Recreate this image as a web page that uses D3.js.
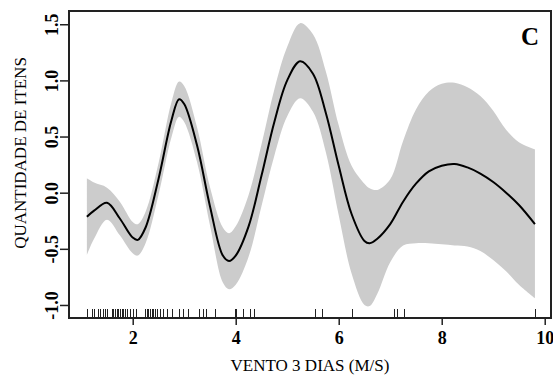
<!DOCTYPE html>
<html>
<head>
<meta charset="utf-8">
<script src="https://cdn.jsdelivr.net/npm/d3@7"></script>
<style>
  body { margin: 0; background: #fff; }
  svg { display: block; font-family: "Liberation Serif", "Times New Roman", serif; }
  .axis path, .axis line { stroke: #222; }
  .axis text { fill: #000; font-weight: bold; font-size: 18px; font-family: "Liberation Serif", "Times New Roman", serif; }
</style>
</head>
<body>
<div id="chart"></div>
<script>
// Smooth fit
var WIND = [1.11, 1.25, 1.5, 1.75, 2.0, 2.1, 2.25, 2.5, 2.75, 2.9, 3.0, 3.25, 3.5, 3.75, 3.87, 4.0,
  4.25, 4.5, 4.75, 5.0, 5.25, 5.5, 5.75, 6.0, 6.25, 6.5, 6.6, 6.75, 7.0, 7.25, 7.5, 7.75, 8.0,
  8.25, 8.5, 8.75, 9.0, 9.25, 9.5, 9.81];
var FIT = [-0.214, -0.16, -0.09, -0.23, -0.4, -0.42, -0.31, 0.12, 0.64, 0.832, 0.79, 0.42, -0.12,
  -0.56, -0.608, -0.56, -0.3, 0.15, 0.63, 1.0, 1.17, 1.06, 0.71, 0.24, -0.19, -0.43, -0.45,
  -0.41, -0.28, -0.08, 0.08, 0.19, 0.24, 0.256, 0.225, 0.17, 0.095, 0.0, -0.11, -0.28];
var UPPER = [0.128, 0.09, 0.045, -0.08, -0.26, -0.28, -0.17, 0.26, 0.8, 0.99, 0.95, 0.58, 0.05,
  -0.31, -0.362, -0.3, -0.02, 0.43, 0.92, 1.3, 1.51, 1.41, 1.08, 0.6, 0.24, 0.08, 0.04, 0.025,
  0.12, 0.46, 0.74, 0.9, 0.97, 0.98, 0.94, 0.86, 0.73, 0.56, 0.45, 0.386];
var LOWER = [-0.555, -0.41, -0.24, -0.38, -0.54, -0.56, -0.45, -0.02, 0.49, 0.677, 0.63, 0.27,
  -0.29, -0.8, -0.86, -0.82, -0.57, -0.12, 0.33, 0.68, 0.84, 0.72, 0.36, -0.2, -0.72, -1.0,
  -1.01, -0.9, -0.62, -0.47, -0.45, -0.45, -0.46, -0.47, -0.48, -0.52, -0.6, -0.7, -0.82, -0.94];

// Observations (rug)
var RUG = [1.106, 1.2, 1.25, 1.33, 1.365, 1.42, 1.47, 1.495, 1.59, 1.62, 1.66, 1.69, 1.72, 1.75,
  1.79, 1.82, 1.85, 1.88, 1.95, 2.0, 2.06, 2.24, 2.27, 2.3, 2.34, 2.37, 2.4, 2.43, 2.47, 2.53,
  2.59, 2.66, 2.76, 2.89, 2.98, 3.08, 3.29, 3.36, 3.42, 3.6, 3.99, 4.01, 4.14, 4.28, 4.36, 5.53,
  5.67, 6.25, 7.08, 7.13, 7.27, 9.81];

var X_TICKS = [2, 4, 6, 8, 10];
var Y_TICKS = [-1.0, -0.5, 0.0, 0.5, 1.0, 1.5];
var X_LABEL = "VENTO 3 DIAS (M/S)";
var Y_LABEL = "QUANTIDADE DE ITENS";
var PANEL = "C";

var FONT = "'Liberation Serif', 'Times New Roman', serif";

var makeTranslate = function(x, y) {
  return "translate(" + x + "," + y + ")";
};

var render = function() {
  var width = 553;
  var height = 381;
  var margins = { top: 11, right: 2, bottom: 63, left: 69 };
  var chartWidth = width - margins.left - margins.right;
  var chartHeight = height - margins.top - margins.bottom;

  var svg = d3.select("#chart")
    .append("svg")
    .attr("width", width)
    .attr("height", height);

  var chartElement = svg.append("g")
    .attr("transform", makeTranslate(margins.left, margins.top));

  var xScale = d3.scaleLinear().domain([0.763, 10.122]).range([0, chartWidth]);
  var yScale = d3.scaleLinear().domain([-1.116, 1.618]).range([chartHeight, 0]);

  var rows = WIND.map(function(x, i) {
    return { x: x, fit: FIT[i], hi: UPPER[i], lo: LOWER[i] };
  });

  // confidence band
  var band = d3.area()
    .x(d => xScale(d.x))
    .y0(d => yScale(d.lo))
    .y1(d => yScale(d.hi))
    .curve(d3.curveCatmullRom.alpha(0.5));

  chartElement.append("path")
    .datum(rows)
    .attr("d", band)
    .attr("fill", "#cccccc");

  var line = d3.line()
    .x(d => xScale(d.x))
    .y(d => yScale(d.fit))
    .curve(d3.curveCatmullRom.alpha(0.5));

  chartElement.append("path")
    .datum(rows)
    .attr("d", line)
    .attr("fill", "none")
    .attr("stroke", "#000")
    .attr("stroke-width", 2);

  // rug
  chartElement.append("g")
    .selectAll("line")
    .data(RUG)
    .enter()
    .append("line")
    .attr("x1", d => Math.round(xScale(d)) + 0.5)
    .attr("x2", d => Math.round(xScale(d)) + 0.5)
    .attr("y1", chartHeight - 9)
    .attr("y2", chartHeight)
    .attr("stroke", "#222")
    .attr("stroke-width", 1);

  // axes
  var xAxis = d3.axisBottom(xScale)
    .tickValues(X_TICKS)
    .tickSize(7)
    .tickPadding(6)
    .tickFormat(d3.format("d"));

  var xAxisG = chartElement.append("g")
    .attr("class", "x axis")
    .attr("transform", makeTranslate(0, chartHeight))
    .call(xAxis)
    .call(g => g.select(".domain").remove());

  xAxisG.selectAll("line").attr("stroke-width", 1.5);
  xAxisG.selectAll("text")
    .style("font-family", FONT)
    .style("font-weight", "bold")
    .style("font-size", "18px");

  var yAxis = d3.axisLeft(yScale)
    .tickValues(Y_TICKS)
    .tickSize(9)
    .tickFormat(d3.format(".1f"));

  var yAxisG = chartElement.append("g")
    .attr("class", "y axis")
    .call(yAxis)
    .call(g => g.select(".domain").remove());

  yAxisG.selectAll("line").attr("stroke-width", 1.5);
  yAxisG.selectAll("text")
    .attr("transform", "rotate(-90)")
    .attr("x", 0)
    .attr("y", -11)
    .attr("dy", 0)
    .attr("text-anchor", "middle")
    .style("font-family", FONT)
    .style("font-weight", "bold")
    .style("font-size", "18px")
    .text(d => d3.format(".1f")(d).replace("−", "-"));

  // box
  chartElement.append("rect")
    .attr("x", 0)
    .attr("y", 0)
    .attr("width", chartWidth)
    .attr("height", chartHeight)
    .attr("fill", "none")
    .attr("stroke", "#222")
    .attr("stroke-width", 2);

  // labels
  svg.append("text")
    .attr("x", margins.left + chartWidth / 2)
    .attr("y", 371)
    .attr("text-anchor", "middle")
    .style("font-family", FONT)
    .style("font-size", "17px")
    .text(X_LABEL);

  svg.append("text")
    .attr("transform", makeTranslate(26, 153) + " rotate(-90)")
    .attr("text-anchor", "middle")
    .style("font-family", FONT)
    .style("font-size", "17px")
    .text(Y_LABEL);

  svg.append("text")
    .attr("x", 521)
    .attr("y", 45)
    .style("font-family", FONT)
    .style("font-size", "25px")
    .style("font-weight", "bold")
    .text(PANEL);
};

window.onload = render;
</script>
</body>
</html>
